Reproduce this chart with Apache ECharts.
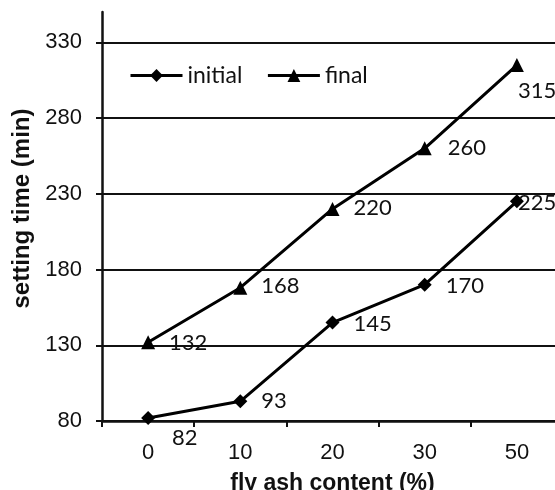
<!DOCTYPE html>
<html><head><meta charset="utf-8">
<script src="https://cdn.jsdelivr.net/npm/echarts@6/dist/echarts.min.js"></script>
<style>html,body{margin:0;padding:0;background:#fff}#c{width:555px;height:490px}</style>
</head><body><div id="c"></div>
<script>
const categories = ['0', '10', '20', '30', '50'];
const initialTimes = [82, 93, 145, 170, 225];
const finalTimes = [132, 168, 220, 260, 315];
const yTickValues = [80, 130, 180, 230, 280, 330];

// label placement tweaks (style only)
const initialLabelOffsets = [[3, 20], [0, 0], [0, 1], [0, 1], [-20, 2]];
const finalLabelOffsets = [[0, 1], [0, -2], [0, -1], [2, 0], [-20, 26]];

const labelFont = { fontFamily: 'Lato', fontSize: 22, color: '#111' };

function buildData(values, offsets) {
  return values.map((v, i) => ({
    value: v,
    label: { offset: offsets[i] }
  }));
}

const chart = echarts.init(document.getElementById('c'), null, { renderer: 'canvas' });
chart.setOption({
  backgroundColor: '#fff',
  animation: false,
  grid: { left: 102, right: -8, top: 12, bottom: 69, containLabel: false, outerBoundsMode: 'none' },
  legend: {
    left: 124, top: 59,
    itemWidth: 52, itemHeight: 16, itemGap: 24,
    lineStyle: { width: 3 },
    textStyle: { fontFamily: 'Lato', fontSize: 23, color: '#111' },
    data: ['initial', 'final']
  },
  xAxis: {
    type: 'category',
    data: categories,
    boundaryGap: true,
    name: 'fly ash content (%)',
    nameLocation: 'middle',
    nameGap: 51,
    nameTextStyle: { fontFamily: 'Liberation Sans', fontWeight: 'bold', fontSize: 23, color: '#111' },
    axisLine: { lineStyle: { color: '#111', width: 2.5 } },
    axisTick: { show: true, interval: 0, length: 6, inside: false, lineStyle: { color: '#111', width: 2 } },
    axisLabel: { interval: 0, margin: 21, fontFamily: 'Liberation Sans', fontSize: 22, color: '#111' },
    splitLine: { show: false }
  },
  yAxis: {
    type: 'value',
    min: 80, max: 350, interval: 50,
    name: 'setting time (min)',
    nameLocation: 'middle',
    nameGap: 60,
    nameTextStyle: { fontFamily: 'Liberation Sans', fontWeight: 'bold', fontSize: 24, color: '#111', padding: [0, 0, 0, 16] },
    axisLine: { show: true, lineStyle: { color: '#111', width: 2.5 } },
    axisTick: { show: true, length: 6, inside: false, customValues: yTickValues, lineStyle: { color: '#111', width: 2 } },
    axisLabel: { margin: 20, fontFamily: 'Liberation Sans', fontSize: 22, color: '#111', customValues: yTickValues },
    splitLine: { show: true, lineStyle: { color: '#111', width: 2 } }
  },
  series: [
    {
      name: 'initial', type: 'line',
      data: buildData(initialTimes, initialLabelOffsets),
      symbol: 'diamond', symbolSize: 14,
      lineStyle: { color: '#000', width: 3 },
      itemStyle: { color: '#000' },
      label: Object.assign({ show: true, position: 'right', distance: 14 }, labelFont),
      z: 3
    },
    {
      name: 'final', type: 'line',
      data: buildData(finalTimes, finalLabelOffsets),
      symbol: 'triangle', symbolSize: 14,
      lineStyle: { color: '#000', width: 3 },
      itemStyle: { color: '#000' },
      label: Object.assign({ show: true, position: 'right', distance: 14 }, labelFont),
      z: 3
    }
  ]
});
</script></body></html>
